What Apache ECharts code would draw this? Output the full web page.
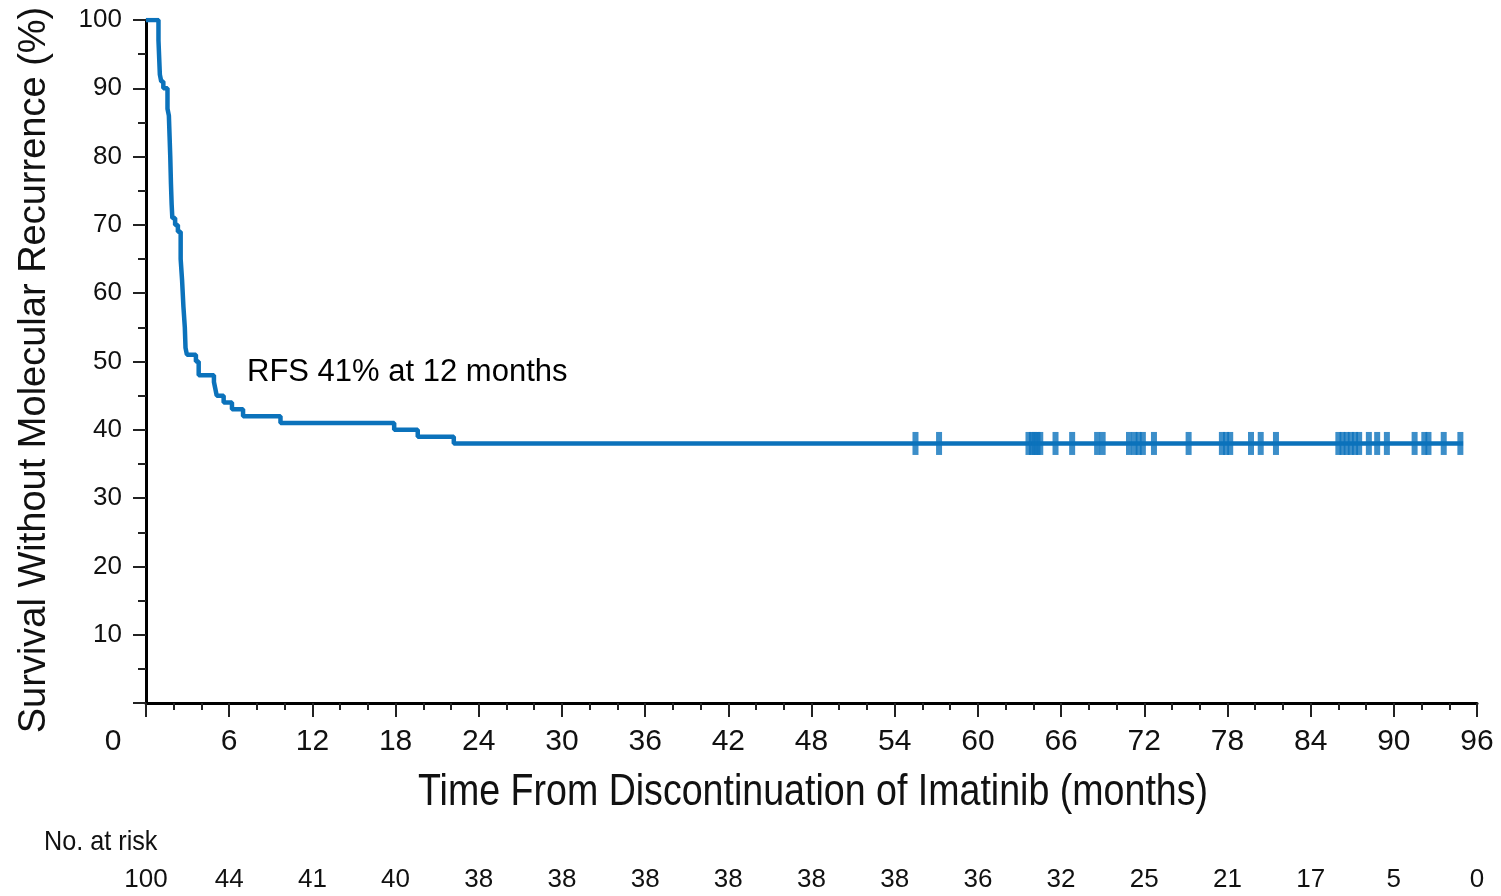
<!DOCTYPE html>
<html>
<head>
<meta charset="utf-8">
<script src="https://cdn.jsdelivr.net/npm/echarts@6/dist/echarts.min.js"></script>
<style>
html,body{margin:0;padding:0;background:#fff;}
#main{width:1501px;height:896px;}
</style>
</head>
<body>
<div id="main"></div>
<script>
// Kaplan-Meier steps: time (months) -> survival (%)
var kmTime = [0, 0.9, 1.0, 1.1, 1.25, 1.55, 1.65, 1.7, 1.75, 1.8, 1.85, 1.9, 2.1, 2.3, 2.5, 2.6, 2.7, 2.8, 2.85, 2.95, 3.0, 3.6, 3.8, 4.9, 5.0, 5.1, 5.6, 6.2, 7.0, 9.7, 17.9, 19.6, 22.2, 95];
var kmSurv = [100, 97, 92, 91, 90, 87, 86, 83, 80, 76, 73, 71, 70, 69, 65, 62, 58, 55, 52, 51, 51, 50, 48, 47, 46, 45, 44, 43, 42, 41, 40, 39, 38, 38];
// censored patients (months)
var censorTime = [55.5, 57.2, 63.65, 63.9, 64.1, 64.3, 64.5, 65.6, 66.8, 68.6, 69.0, 70.9, 71.3, 71.6, 71.9, 72.7, 75.2, 77.6, 77.9, 78.2, 79.7, 80.4, 81.5, 86.0, 86.3, 86.6, 86.9, 87.2, 87.5, 88.2, 88.8, 89.5, 91.5, 92.2, 92.5, 93.6, 94.8];
var censorSurv = 38;
// number at risk, every 6 months
var riskTicks = [0, 6, 12, 18, 24, 30, 36, 42, 48, 54, 60, 66, 72, 78, 84, 90, 96];
var riskCount = [100, 44, 41, 40, 38, 38, 38, 38, 38, 38, 36, 32, 25, 21, 17, 5, 0];

var blue = '#0b72bb';
var plain = "'Liberation Sans', Arial, sans-serif";

var myChart = echarts.init(document.getElementById('main'), null, {renderer: 'canvas'});

var kmData = [];
for (var i = 0; i < kmTime.length; i++) {
	kmData.push([kmTime[i], kmSurv[i]]);
}
var censorData = [];
for (var i = 0; i < censorTime.length; i++) {
	censorData.push([censorTime[i], censorSurv]);
}

var option = {
	animation: false,
	backgroundColor: '#fff',
	grid: {left: 146, right: 24, top: 20, bottom: 193},
	xAxis: [{
		type: 'value',
		min: 0,
		max: 96,
		interval: 6,
		axisLine: {show: true, onZero: false, lineStyle: {color: '#000', width: 3}},
		axisTick: {show: true, length: 14, lineStyle: {color: '#222', width: 2}},
		minorTick: {show: true, splitNumber: 3, length: 7, lineStyle: {color: '#222', width: 2}},
		splitLine: {show: false},
		axisLabel: {
			margin: 24,
			fontFamily: plain,
			fontSize: 30,
			color: '#111',
			formatter: function (v) {
				if (v === 0) return '{z|0}';
				return v;
			},
			rich: {z: {fontFamily: plain, fontSize: 30, color: '#111', padding: [0, 66, 0, 0]}}
		}
	}, {
		// number-at-risk row
		type: 'value',
		position: 'bottom',
		offset: 160,
		min: 0,
		max: 96,
		interval: 6,
		axisLine: {show: false},
		axisTick: {show: false},
		splitLine: {show: false},
		axisLabel: {
			margin: 4,
			fontFamily: plain,
			fontSize: 26,
			color: '#111',
			formatter: function (v) {
				var idx = riskTicks.indexOf(v);
				return idx >= 0 ? String(riskCount[idx]) : '';
			}
		}
	}],
	yAxis: {
		type: 'value',
		min: 0,
		max: 100,
		interval: 10,
		axisLine: {show: true, onZero: false, lineStyle: {color: '#000', width: 3}},
		axisTick: {show: true, length: 13, lineStyle: {color: '#222', width: 2}},
		minorTick: {show: true, splitNumber: 2, length: 8, lineStyle: {color: '#222', width: 2}},
		splitLine: {show: false},
		axisLabel: {
			margin: 24,
			fontFamily: plain,
			fontSize: 26,
			color: '#111',
			formatter: function (v) {
				return v === 0 ? '' : v;
			}
		}
	},
	graphic: [{
		type: 'text',
		x: 35,
		y: 370,
		rotation: Math.PI / 2,
		style: {
			text: 'Survival Without Molecular Recurrence (%)',
			fontFamily: plain,
			fontSize: 38,
			fill: '#111',
			align: 'center',
			verticalAlign: 'middle'
		}
	}, {
		// x axis title, squeezed to look like the condensed face of the original
		type: 'text',
		x: 813,
		y: 793,
		scaleX: 0.835,
		style: {
			text: 'Time From Discontinuation of Imatinib (months)',
			fontFamily: plain,
			fontSize: 45,
			fill: '#111',
			align: 'center',
			verticalAlign: 'middle'
		}
	}, {
		type: 'text',
		x: 247,
		y: 372,
		style: {
			text: 'RFS 41% at 12 months',
			fontFamily: plain,
			fontSize: 31,
			fill: '#000',
			align: 'left',
			verticalAlign: 'middle'
		}
	}, {
		type: 'text',
		x: 44,
		y: 842,
		scaleX: 0.9,
		style: {
			text: 'No. at risk',
			fontFamily: plain,
			fontSize: 28,
			fill: '#111',
			align: 'left',
			verticalAlign: 'middle'
		}
	}],
	series: [{
		name: 'RFS',
		type: 'line',
		step: 'end',
		xAxisIndex: 0,
		showSymbol: false,
		symbol: 'none',
		lineStyle: {color: blue, width: 4.5},
		data: kmData,
		z: 3
	}, {
		name: 'censored',
		type: 'scatter',
		xAxisIndex: 0,
		symbol: 'rect',
		symbolSize: [6, 23],
		itemStyle: {color: blue},
		data: censorData,
		z: 4
	}]
};
myChart.setOption(option);
window.onresize = myChart.resize;
</script>
</body>
</html>
